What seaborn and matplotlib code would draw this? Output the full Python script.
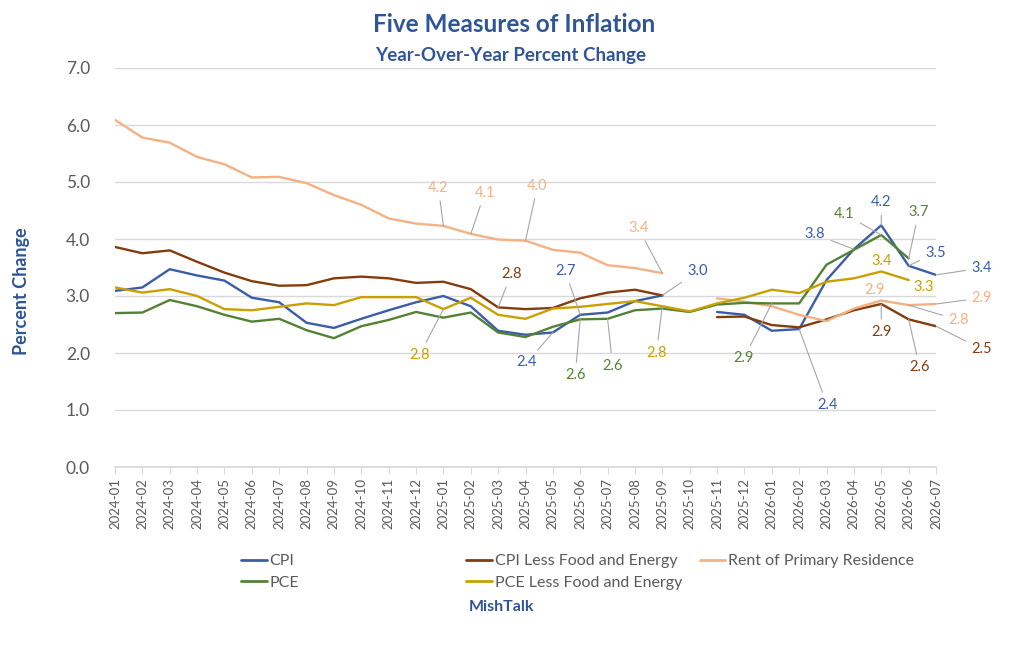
import numpy as np
import pandas as pd
import matplotlib
matplotlib.use("Agg")
import matplotlib.pyplot as plt
from matplotlib.lines import Line2D
import seaborn as sns

sns.set_theme(style="white")
plt.rcParams['font.family'] = ['Lato', 'DejaVu Sans']

nan = np.nan
months = ['2024-01', '2024-02', '2024-03', '2024-04', '2024-05', '2024-06',
          '2024-07', '2024-08', '2024-09', '2024-10', '2024-11', '2024-12',
          '2025-01', '2025-02', '2025-03', '2025-04', '2025-05', '2025-06',
          '2025-07', '2025-08', '2025-09', '2025-10', '2025-11', '2025-12',
          '2026-01', '2026-02', '2026-03', '2026-04', '2026-05', '2026-06',
          '2026-07']

cpi = [3.09, 3.15, 3.47, 3.36, 3.27, 2.97, 2.89, 2.53, 2.44, 2.60, 2.75, 2.89,
       3.00, 2.82, 2.39, 2.32, 2.36, 2.67, 2.71, 2.91, 3.01, nan, 2.72, 2.67,
       2.39, 2.42, 3.28, 3.82, 4.24, 3.53, 3.37]
core_cpi = [3.86, 3.75, 3.80, 3.60, 3.41, 3.26, 3.18, 3.19, 3.31, 3.34, 3.31, 3.23,
            3.25, 3.12, 2.80, 2.77, 2.79, 2.96, 3.06, 3.11, 3.01, nan, 2.63, 2.64,
            2.49, 2.45, 2.59, 2.75, 2.86, 2.59, 2.47]
rent = [6.09, 5.78, 5.69, 5.44, 5.31, 5.08, 5.09, 4.98, 4.77, 4.60, 4.36, 4.27,
        4.23, 4.09, 3.99, 3.97, 3.81, 3.76, 3.54, 3.49, 3.40, nan, 2.96, 2.90,
        2.82, 2.67, 2.56, 2.78, 2.92, 2.84, 2.86]
pce = [2.70, 2.71, 2.93, 2.82, 2.67, 2.55, 2.60, 2.40, 2.26, 2.47, 2.58, 2.72,
       2.62, 2.71, 2.36, 2.28, 2.46, 2.59, 2.60, 2.75, 2.78, 2.72, 2.85, 2.88,
       2.87, 2.87, 3.55, 3.81, 4.07, 3.66, nan]
core_pce = [3.15, 3.06, 3.12, 3.00, 2.77, 2.75, 2.81, 2.87, 2.84, 2.98, 2.98, 2.98,
            2.77, 2.97, 2.67, 2.60, 2.78, 2.81, 2.86, 2.91, 2.82, 2.73, 2.87, 2.97,
            3.11, 3.05, 3.25, 3.31, 3.43, 3.28, nan]

series = {
    'CPI': cpi,
    'CPI Less Food and Energy': core_cpi,
    'Rent of Primary Residence': rent,
    'PCE': pce,
    'PCE Less Food and Energy': core_pce,
}
colors = {
    'CPI': '#3A5DA8',
    'CPI Less Food and Energy': '#843C0C',
    'Rent of Primary Residence': '#F4B183',
    'PCE': '#548235',
    'PCE Less Food and Energy': '#C9A000',
}

# which points get a value label, and where the label sits (pixel offset)
labels = [
    ('Rent of Primary Residence', '2025-01', -5, 38),
    ('Rent of Primary Residence', '2025-02', 14, 41),
    ('Rent of Primary Residence', '2025-04', 12, 55),
    ('Rent of Primary Residence', '2025-09', -24, 45),
    ('Rent of Primary Residence', '2026-05', -7, 11),
    ('Rent of Primary Residence', '2026-06', 50, -15),
    ('Rent of Primary Residence', '2026-07', 46, 6),
    ('CPI', '2025-05', -26, -30),
    ('CPI', '2025-06', -15, 44),
    ('CPI', '2025-09', 35, 24),
    ('CPI', '2026-02', 28, -76),
    ('CPI', '2026-04', -39, 15),
    ('CPI', '2026-05', 0, 23),
    ('CPI', '2026-06', 27, 13),
    ('CPI', '2026-07', 46, 7),
    ('CPI Less Food and Energy', '2025-03', 13, 33),
    ('CPI Less Food and Energy', '2026-05', 0, -28),
    ('CPI Less Food and Energy', '2026-06', 11, -48),
    ('CPI Less Food and Energy', '2026-07', 46, -23),
    ('PCE', '2025-06', -5, -56),
    ('PCE', '2025-07', 5, -47),
    ('PCE', '2026-01', -28, -55),
    ('PCE', '2026-05', -37, 21),
    ('PCE', '2026-06', 10, 46),
    ('PCE Less Food and Energy', '2025-01', -24, -46),
    ('PCE Less Food and Energy', '2025-09', -6, -47),
    ('PCE Less Food and Energy', '2026-05', 0, 10),
    ('PCE Less Food and Energy', '2026-06', 15, -7),
]

# long table, with a segment id so the Oct-2025 gap stays open
rows = []
for name, vals in series.items():
    seg = 0
    for i, v in enumerate(vals):
        if np.isnan(v):
            seg += 1
            continue
        rows.append({'series': name, 'idx': i, 'value': v, 'seg': seg})
df = pd.DataFrame(rows)

blue = '#2F5597'
gray = '#595959'

fig = plt.figure(figsize=(10.24, 6.47), dpi=100)
ax = fig.add_axes([115 / 1024, 1 - 467 / 647, (936 - 115) / 1024, (467 - 68) / 647])

sns.lineplot(data=df, x='idx', y='value', hue='series', units='seg',
             estimator=None, palette=colors, lw=1.7, legend=False, ax=ax)

for name, m, dx, dy in labels:
    i = months.index(m)
    v = series[name][i]
    far = (dx * dx + dy * dy) ** 0.5 > 22
    ax.annotate(f"{v:.1f}", xy=(i, v), xytext=(dx, dy), textcoords='offset pixels',
                ha='center', va='center', fontsize=10.5, color=colors[name],
                arrowprops=dict(arrowstyle='-', color='#A6A6A6', lw=0.8,
                                shrinkA=2, shrinkB=0) if far else None,
                zorder=5)

ax.set_xlim(0, len(months) - 1)
ax.set_ylim(0, 7)
ax.set_yticks(np.arange(0, 7.5, 1.0))
ax.set_yticklabels([f"{t:.1f}" for t in np.arange(0, 7.5, 1.0)], fontsize=12.5, color=gray)
ax.set_xticks(range(len(months)))
ax.set_xticklabels(months, rotation=90, fontsize=9.5, color=gray)
ax.tick_params(axis='y', length=0, pad=18)
ax.tick_params(axis='x', length=5, width=0.8, color='#D9D9D9', pad=3, bottom=True)
ax.grid(axis='y', color='#D9D9D9', lw=1)
ax.set_axisbelow(True)
for s in ['top', 'right', 'left']:
    ax.spines[s].set_visible(False)
ax.spines['bottom'].set_color('#D9D9D9')
ax.set_xlabel('')
ax.set_ylabel('')

fig.text(514 / 1024, 1 - 25 / 647, 'Five Measures of Inflation', ha='center', va='center',
         fontsize=17.5, fontweight='bold', color=blue)
fig.text(511 / 1024, 1 - 55 / 647, 'Year-Over-Year Percent Change', ha='center', va='center',
         fontsize=13.5, fontweight='bold', color=blue)
fig.text(22 / 1024, 1 - 291 / 647, 'Percent Change', ha='center', va='center', rotation=90,
         fontsize=13, fontweight='bold', color=blue)
fig.text(501 / 1024, 1 - 607 / 647, 'MishTalk', ha='center', va='center',
         fontsize=11.5, fontweight='bold', color=blue)

def handle(name):
    return Line2D([], [], color=colors[name], lw=2)

leg_kw = dict(frameon=False, fontsize=11.5, handlelength=1.6, handletextpad=0.2,
              labelspacing=0.45, borderpad=0, borderaxespad=0, loc='upper left',
              labelcolor=gray)
names_a = ['CPI', 'PCE']
names_b = ['CPI Less Food and Energy', 'PCE Less Food and Energy', 'Rent of Primary Residence']
fig.legend([handle(n) for n in names_a], names_a,
           bbox_to_anchor=(241 / 1024, 1 - 554 / 647), **leg_kw)
fig.legend([handle(n) for n in names_b], names_b, ncol=2, columnspacing=1.1,
           bbox_to_anchor=(466 / 1024, 1 - 554 / 647), **leg_kw)

fig.savefig('out.png', dpi=100)
